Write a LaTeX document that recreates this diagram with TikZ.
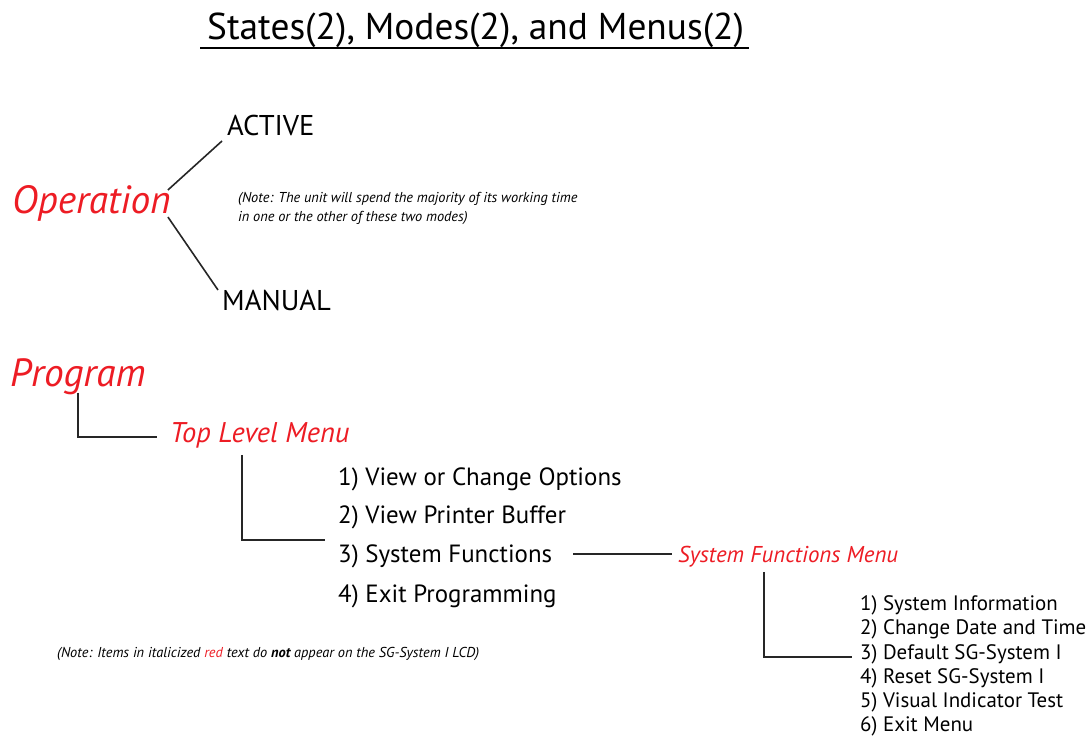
\documentclass[tikz,border=0pt]{standalone}
\usepackage{fontspec}
\setmainfont{PT Sans}
\definecolor{menured}{RGB}{237,28,36}

\begin{document}
\begin{tikzpicture}[x=1bp,y=-1bp,
    every node/.style={inner sep=0pt,anchor=base west},
    heading/.style={font=\fontsize{37.5}{44}\selectfont},
    mode/.style={font=\fontsize{28.7}{32}\selectfont},
    redbig/.style={text=menured,font=\itshape\fontsize{39.5}{46}\selectfont},
    redmenu/.style={text=menured,font=\itshape\fontsize{28.6}{32}\selectfont},
    redsub/.style={text=menured,font=\itshape\fontsize{23}{28}\selectfont},
    topitem/.style={font=\fontsize{25}{28}\selectfont},
    subitem/.style={font=\fontsize{21}{24}\selectfont},
    note/.style={font=\itshape\fontsize{14.4}{19}\selectfont,align=left},
    link/.style={line width=1.6bp,draw=black!85}]
  \useasboundingbox (0,0) rectangle (1089,736);
  % Title
  \node[heading] (title) at (207,40) {States(2), Modes(2), and Menus(2)};
  \draw[line width=2bp] ([shift={(-7,8)}]title.base west) -- ([shift={(5,8)}]title.base east);
  % Operation state
  \node[redbig] (oper) at (12,213) {Operation};
  \node[mode] (active) at (227,135) {ACTIVE};
  \node[mode] (manual) at (222,310) {MANUAL};
  \draw[link] ([shift={(-3,-23)}]oper.base east) -- ([shift={(-5,6)}]active.base west);
  \draw[link] ([shift={(-3,4)}]oper.base east) -- ([shift={(-4,-20)}]manual.base west);
  \node[note] (opnote) at (238,202) {(Note: The unit will spend the majority of its working time};
  \node[note] (opnote2) at (238,221) {in one or the other of these two modes)};
  % Program state
  \node[redbig] (prog) at (10,386) {Program};
  \node[redmenu] (toplvl) at (170,442) {Top Level Menu};
  \draw[link] ([yshift=2]prog.south) |- ([shift={(-13,-5)}]toplvl.base west);
  \node[topitem] (opt1) at (338,485) {1) View or Change Options};
  \node[topitem] (opt2) at (338,523) {2) View Printer Buffer};
  \node[topitem] (opt3) at (338,562) {3) System Functions};
  \node[topitem] (opt4) at (338,602) {4) Exit Programming};
  \draw[link] ([shift={(-18,7)}]toplvl.south) |- ([shift={(-13,-22)}]opt3.base west);
  \node[redsub] (sysmenu) at (678,562) {System Functions Menu};
  \draw[link] ([shift={(21,-8)}]opt3.base east) -- ([shift={(-6,-8)}]sysmenu.base west);
  \node[subitem] (sub1) at (860,610) {1) System Information};
  \node[subitem] (sub2) at (860,634) {2) Change Date and Time};
  \node[subitem] (sub3) at (860,659) {3) Default SG-System I};
  \node[subitem] (sub4) at (860,683) {4) Reset SG-System I};
  \node[subitem] (sub5) at (860,707) {5) Visual Indicator Test};
  \node[subitem] (sub6) at (860,731) {6) Exit Menu};
  \draw[link] ([shift={(-24,5)}]sysmenu.south) |- ([shift={(-8,-2)}]sub3.base west);
  % Legend
  \node[note] (legend) at (57,657) {(Note: Items in italicized \textcolor{menured}{red} text do \textbf{not} appear on the SG-System I LCD)};
\end{tikzpicture}
\end{document}
